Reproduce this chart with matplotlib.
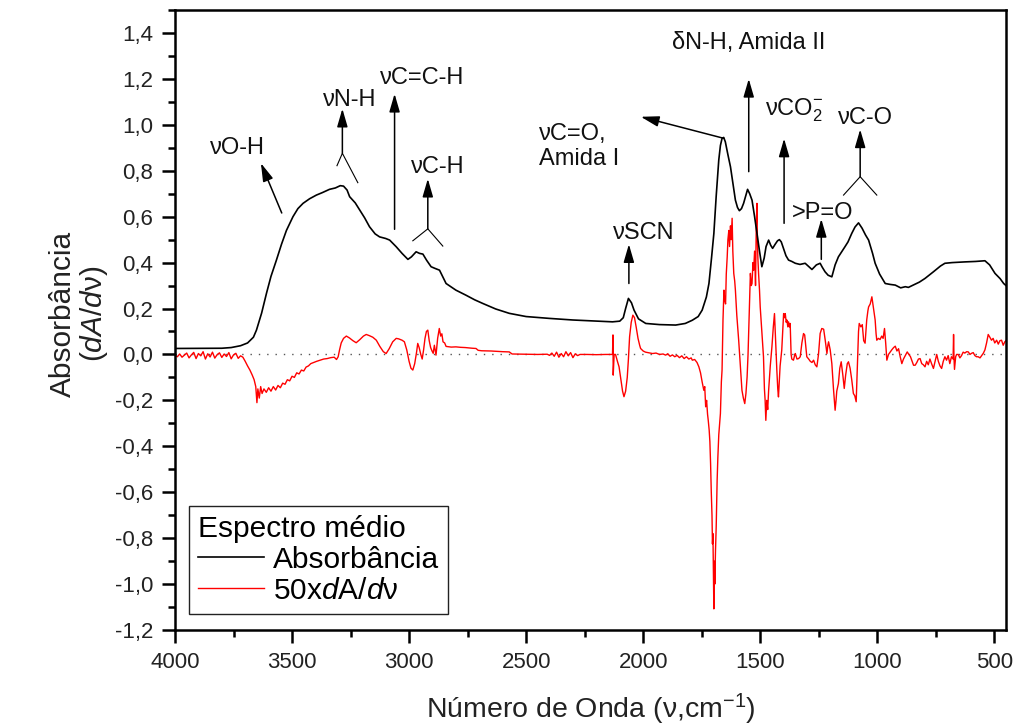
import matplotlib
matplotlib.use("Agg")
import matplotlib.pyplot as plt
from matplotlib.ticker import MultipleLocator, FuncFormatter

plt.rcParams['font.family'] = ['Liberation Sans', 'DejaVu Sans']
plt.rcParams['mathtext.fontset'] = 'custom'
plt.rcParams['mathtext.rm'] = 'Liberation Sans'
plt.rcParams['mathtext.it'] = 'Liberation Sans:italic'
plt.rcParams['mathtext.bf'] = 'Liberation Sans:bold'

# --- mean absorbance spectrum
abs_x = [4000, 3800, 3760, 3720, 3690, 3665, 3652, 3630, 3609, 3590, 3567, 3545, 3524, 3496,
         3475, 3453, 3425, 3396, 3370, 3340, 3315, 3294, 3280, 3265, 3254, 3230, 3211, 3190,
         3169, 3145, 3126, 3100, 3083, 3055, 3030, 3005, 2990, 2970, 2955, 2941, 2925, 2906,
         2890, 2870, 2842, 2800, 2757, 2720, 2685, 2630, 2572, 2500, 2401, 2300, 2188, 2131,
         2100, 2085, 2075, 2063, 2050, 2039, 2020, 1989, 1930, 1861, 1820, 1790, 1765, 1748,
         1730, 1719, 1708, 1698, 1688, 1677, 1670, 1663, 1656, 1649, 1638, 1627, 1616, 1606,
         1597, 1589, 1580, 1571, 1562, 1554, 1545, 1535, 1524, 1514, 1503, 1493, 1483, 1475,
         1464, 1455, 1447, 1436, 1426, 1418, 1410, 1400, 1390, 1379, 1365, 1350, 1330, 1308,
         1290, 1279, 1260, 1244, 1235, 1223, 1210, 1194, 1180, 1166, 1150, 1138, 1125, 1109,
         1095, 1080, 1065, 1050, 1037, 1020, 1009, 990, 966, 945, 923, 900, 880, 867, 840, 820,
         796, 760, 730, 711, 680, 626, 580, 540, 520, 497, 475, 460, 450]
abs_y = [0.026, 0.027, 0.030, 0.038, 0.050, 0.075, 0.106, 0.180, 0.267, 0.340, 0.410, 0.480,
         0.540, 0.600, 0.635, 0.658, 0.678, 0.694, 0.705, 0.719, 0.725, 0.735, 0.733, 0.716,
         0.687, 0.660, 0.629, 0.595, 0.556, 0.525, 0.512, 0.505, 0.498, 0.469, 0.440, 0.414,
         0.425, 0.447, 0.440, 0.437, 0.410, 0.382, 0.375, 0.367, 0.309, 0.280, 0.258, 0.238,
         0.222, 0.198, 0.179, 0.165, 0.157, 0.150, 0.145, 0.142, 0.145, 0.160, 0.200, 0.244,
         0.225, 0.193, 0.155, 0.135, 0.130, 0.128, 0.135, 0.149, 0.165, 0.193, 0.250, 0.309,
         0.420, 0.527, 0.690, 0.847, 0.910, 0.941, 0.945, 0.926, 0.870, 0.817, 0.740, 0.672,
         0.640, 0.626, 0.635, 0.658, 0.690, 0.719, 0.700, 0.672, 0.600, 0.527, 0.450, 0.382,
         0.420, 0.470, 0.498, 0.475, 0.462, 0.480, 0.495, 0.500, 0.490, 0.460, 0.430, 0.411,
         0.405, 0.397, 0.392, 0.397, 0.380, 0.370, 0.390, 0.397, 0.380, 0.360, 0.345, 0.338,
         0.390, 0.425, 0.450, 0.469, 0.490, 0.527, 0.555, 0.573, 0.550, 0.520, 0.498, 0.440,
         0.397, 0.350, 0.309, 0.305, 0.302, 0.290, 0.295, 0.292, 0.305, 0.315, 0.331, 0.360,
         0.385, 0.397, 0.400, 0.403, 0.405, 0.408, 0.390, 0.353, 0.330, 0.309, 0.300]

# --- 50 x first derivative, split in stretches to keep x/y aligned
der_x_a = [4000, 3990, 3980, 3970, 3960, 3950, 3940, 3930, 3920, 3910, 3900, 3890, 3880, 3870,
           3860, 3850, 3840, 3830, 3820, 3810, 3800, 3790, 3780, 3770, 3760, 3750, 3740, 3730,
           3720, 3710]
der_y_a = [-0.004, -0.010, 0.002, -0.012, -0.003, 0.006, -0.015, -0.002, 0.009, -0.018, 0.004,
           -0.006, 0.012, -0.020, 0.003, -0.011, 0.010, -0.016, -0.001, 0.007, -0.013, 0.002,
           -0.009, 0.008, -0.019, -0.002, 0.005, -0.017, -0.006, -0.012]

der_x_b = [3700, 3690, 3680, 3670, 3662, 3655, 3650, 3646, 3640, 3634, 3628, 3620, 3610, 3600,
           3590, 3580, 3570, 3560, 3550, 3540, 3530, 3520, 3510, 3500, 3490, 3480, 3470, 3460,
           3450, 3440, 3430, 3420, 3410, 3395, 3380, 3365, 3350, 3335, 3320, 3310, 3303, 3297,
           3290, 3280, 3268, 3255, 3240, 3226, 3210, 3195, 3183, 3170, 3155, 3140, 3125, 3110,
           3098, 3085, 3070, 3055, 3045, 3030, 3020, 3010, 3000, 2992, 2984, 2976, 2968, 2963,
           2957, 2950, 2944, 2938, 2932, 2926, 2920, 2914, 2908, 2902, 2897, 2892, 2885, 2878,
           2871, 2865, 2860, 2855, 2848, 2842, 2820, 2800, 2780, 2760, 2730, 2714, 2705, 2690,
           2650, 2600, 2572, 2560]
der_y_b = [-0.030, -0.050, -0.068, -0.090, -0.110, -0.140, -0.210, -0.150, -0.190, -0.140,
           -0.170, -0.150, -0.165, -0.145, -0.160, -0.140, -0.155, -0.135, -0.145, -0.125,
           -0.130, -0.110, -0.115, -0.095, -0.100, -0.080, -0.085, -0.068, -0.072, -0.055,
           -0.050, -0.040, -0.036, -0.030, -0.025, -0.020, -0.018, -0.014, -0.012, -0.022,
           -0.010, 0.020, 0.050, 0.070, 0.080, 0.072, 0.060, 0.051, 0.065, 0.080, 0.087, 0.082,
           0.075, 0.062, 0.035, 0.012, 0.004, 0.025, 0.055, 0.070, 0.068, 0.062, 0.055, 0.020,
           -0.030, -0.060, -0.068, -0.040, 0.010, 0.048, 0.030, 0.000, -0.020, 0.020, 0.070,
           0.100, 0.106, 0.060, 0.030, 0.015, 0.005, 0.040, -0.003, 0.070, 0.113, 0.080, 0.090,
           0.055, 0.050, 0.035, 0.032, 0.033, 0.031, 0.030, 0.027, 0.026, 0.018, 0.016, 0.015,
           0.012, 0.011, 0.002]

der_x_c = [2500, 2450, 2410, 2400, 2390, 2380, 2370, 2360, 2350, 2340, 2330, 2320, 2310, 2300,
           2290, 2280, 2270, 2240, 2200, 2160, 2135]
der_y_c = [0.001, 0.000, 0.001, -0.004, 0.006, -0.008, 0.010, -0.012, 0.004, -0.010, 0.012,
           -0.006, 0.008, -0.014, 0.003, -0.005, 0.000, 0.000, -0.001, 0.000, 0.000]

der_x_d = [2131, 2129, 2128, 2124, 2118, 2110, 2103, 2095, 2088, 2082, 2075, 2068, 2063, 2058,
           2051, 2044, 2037, 2030, 2022, 2015, 2011, 2000, 1990, 1975, 1960, 1945, 1930, 1915,
           1904, 1895, 1885, 1875, 1865, 1855, 1845, 1835, 1825, 1815, 1805, 1795, 1790, 1780,
           1770, 1762]
der_y_d = [0.000, 0.085, -0.090, 0.000, 0.000, -0.030, -0.054, -0.110, -0.160, -0.184, -0.160,
           -0.100, -0.020, 0.077, 0.140, 0.171, 0.160, 0.120, 0.070, 0.040, 0.026, 0.015, 0.010,
           0.007, 0.004, 0.006, 0.000, 0.002, -0.003, 0.003, -0.008, -0.002, -0.010, -0.004,
           -0.014, -0.006, -0.018, -0.010, -0.020, -0.015, -0.025, -0.022, -0.035, -0.054]

der_x_e = [1755, 1748, 1741, 1737, 1733, 1729, 1725, 1722, 1718, 1715, 1712, 1709, 1706, 1704,
           1702, 1700, 1698, 1696, 1694, 1691, 1688, 1684, 1681, 1677, 1673, 1670, 1666, 1663,
           1661, 1659, 1655, 1652, 1648, 1645, 1641, 1638, 1634, 1631, 1627, 1624, 1620, 1617,
           1613, 1609, 1606, 1600, 1592, 1585, 1578, 1572, 1566, 1561, 1556, 1552, 1549, 1545,
           1542, 1538, 1535, 1531, 1528, 1524, 1520, 1517, 1514, 1512, 1510, 1507, 1503, 1500,
           1493, 1486, 1482, 1479, 1476, 1472, 1468, 1464, 1457, 1450, 1444, 1439, 1434, 1429,
           1425, 1422]
der_y_e = [-0.080, -0.120, -0.156, -0.140, -0.228, -0.200, -0.260, -0.287, -0.330, -0.380,
           -0.476, -0.600, -0.700, -0.825, -0.780, -0.950, -1.108, -0.900, -1.000, -0.853,
           -0.750, -0.548, -0.450, -0.350, -0.300, -0.257, -0.120, -0.068, 0.033, 0.150, 0.280,
           0.240, 0.220, 0.350, 0.425, 0.500, 0.540, 0.470, 0.560, 0.500, 0.593, 0.450, 0.353,
           0.320, 0.280, 0.170, 0.062, -0.050, -0.156, -0.190, -0.214, -0.170, -0.098, 0.000,
           0.106, 0.250, 0.353, 0.300, 0.309, 0.400, 0.367, 0.450, 0.300, 0.550, 0.658, 0.500,
           0.420, 0.353, 0.280, 0.207, 0.100, -0.010, -0.150, -0.200, -0.287, -0.200, -0.240,
           -0.156, -0.050, 0.033, 0.120, 0.178, 0.050, -0.068, -0.150, -0.185]

der_x_f = [1415, 1408, 1403, 1400, 1396, 1393, 1389, 1386, 1382, 1379, 1375, 1372, 1368, 1365,
           1358, 1352, 1350, 1343, 1336, 1329, 1322, 1315, 1310, 1305, 1301, 1293, 1286, 1279,
           1272, 1265, 1258, 1251, 1244, 1237, 1229, 1222, 1215, 1211, 1208, 1201, 1194, 1187,
           1180, 1176, 1173, 1166, 1160, 1154, 1147, 1141, 1135, 1128, 1123, 1116, 1109, 1102,
           1096, 1090, 1085, 1080, 1077, 1070, 1064, 1058, 1052, 1045, 1040, 1037, 1030, 1023,
           1016, 1009, 1005, 1002, 995, 988, 981, 975, 969, 964, 959, 952, 945, 938, 930, 923,
           916, 909, 902, 895, 888, 880, 872, 865, 858, 851, 845, 838, 831, 824, 817, 810, 803,
           796, 789, 782, 775, 768, 760, 753, 746, 739, 732, 725, 718, 711, 704, 697, 690, 683,
           676, 674, 672, 670, 665, 661, 654, 647, 640, 633, 626, 618, 611, 604, 597, 590, 583,
           576, 569, 561, 554, 547, 540, 533, 526, 519, 512, 505, 498, 490, 483, 476, 469, 462,
           455, 450]
der_y_f = [-0.050, 0.019, 0.120, 0.178, 0.160, 0.178, 0.140, 0.150, 0.120, 0.142, 0.120, 0.135,
           0.000, -0.020, -0.025, 0.000, 0.004, -0.020, -0.018, -0.010, 0.050, 0.091, 0.085,
           0.030, -0.010, -0.020, -0.030, -0.035, -0.025, -0.045, -0.054, 0.000, 0.091, 0.113,
           0.110, 0.060, 0.004, 0.040, 0.055, 0.020, -0.040, -0.150, -0.243, -0.200, -0.160,
           -0.127, -0.060, -0.032, -0.090, -0.148, -0.090, -0.040, -0.032, -0.060, -0.110,
           -0.170, -0.180, -0.206, -0.050, 0.100, 0.135, 0.120, 0.130, 0.060, 0.049, 0.150,
           0.190, 0.207, 0.220, 0.251, 0.200, 0.150, 0.090, 0.062, 0.070, 0.065, 0.080, 0.070,
           0.113, 0.050, -0.025, 0.000, 0.010, 0.020, 0.030, 0.036, 0.015, 0.025, -0.010, -0.040,
           -0.020, -0.005, 0.011, 0.000, -0.010, -0.030, -0.047, -0.047, -0.035, -0.020, -0.018,
           -0.040, -0.045, -0.054, -0.030, -0.045, -0.020, -0.040, -0.061, -0.030, 0.000, -0.030,
           -0.050, -0.061, -0.030, -0.010, -0.025, -0.005, -0.040, -0.010, -0.020, 0.087, -0.020,
           -0.065, -0.010, 0.000, 0.000, -0.015, -0.005, 0.010, 0.006, 0.012, 0.011, 0.000,
           0.005, 0.008, -0.005, -0.010, -0.010, -0.015, -0.005, 0.005, 0.020, 0.050, 0.087,
           0.075, 0.062, 0.070, 0.050, 0.062, 0.045, 0.060, 0.062, 0.040, 0.055, 0.060]

der_x = der_x_a + der_x_b + der_x_c + der_x_d + der_x_e + der_x_f
der_y = der_y_a + der_y_b + der_y_c + der_y_d + der_y_e + der_y_f

# band assignments: label, text anchor (x, y), arrow tail, arrow head
bands = [
    ('νO-H', (3851, 0.90), (3544, 0.616), (3633, 0.833)),
    ('νN-H', (3369, 1.11), (3285, 0.876), (3285, 1.070)),
    ('νC=C-H', (3126, 1.204), (3062, 0.545), (3062, 1.135)),
    ('νC-H', (2991, 0.817), (2920, 0.547), (2920, 0.765)),
    ('νSCN', (2131, 0.527), (2061, 0.309), (2061, 0.480)),
    ('νC=O,\nAmida I', (2444, 0.905), (1655, 0.941), (2010, 1.035)),
    ('δN-H, Amida II', (1877, 1.355), (1549, 0.796), (1549, 1.200)),
    ('νCO$_2^{-}$', (1478, 1.065), (1398, 0.571), (1398, 0.940)),
    ('>P=O', (1365, 0.614), (1239, 0.414), (1239, 0.590)),
    ('νC-O', (1166, 1.028), (1073, 0.774), (1073, 0.980)),
]
# little forks under some arrows (vertex, left leg end, right leg end)
forks = [
    ((3285, 0.876), (3308, 0.822), (3219, 0.748)),
    ((2920, 0.547), (2984, 0.495), (2856, 0.472)),
    ((1073, 0.774), (1144, 0.694), (1002, 0.694)),
]


def comma_fmt(v, pos):
    s = f"{v:.1f}".replace('.', ',')
    if s == '-0,0':
        s = '0,0'
    return s


fig = plt.figure(figsize=(10.17, 7.28), dpi=100)
ax = fig.add_axes([175 / 1017, 98 / 728, 831 / 1017, 620 / 728])

ax.axhline(0, color='#555555', lw=1.0, ls=(0, (1, 5)), zorder=1)
ax.plot(abs_x, abs_y, color='k', lw=1.2, label='Absorbância', zorder=3)
ax.plot(der_x, der_y, color='#ff0000', lw=1.0, label='50x$d$A/$d$ν', zorder=2)

for label, (tx, ty), tail, head in bands:
    ax.text(tx, ty, label, fontsize=17, ha='left', va='center', color='#111111')
    ax.annotate('', xy=head, xytext=tail,
                arrowprops=dict(arrowstyle='-|>,head_length=0.55,head_width=0.16',
                                mutation_scale=20, color='k', lw=1.1,
                                shrinkA=0, shrinkB=0))

for vertex, left, right in forks:
    ax.plot([left[0], vertex[0], right[0]], [left[1], vertex[1], right[1]],
            color='k', lw=0.8)

ax.set_xlim(4000, 450)
ax.set_ylim(-1.2, 1.5)

ax.xaxis.set_major_locator(MultipleLocator(500))
ax.xaxis.set_minor_locator(MultipleLocator(250))
ax.yaxis.set_major_locator(MultipleLocator(0.2))
ax.yaxis.set_minor_locator(MultipleLocator(0.1))
ax.yaxis.set_major_formatter(FuncFormatter(comma_fmt))
ax.xaxis.set_major_formatter(FuncFormatter(lambda v, p: f"{v:.0f}"))

ax.tick_params(which='both', direction='out', top=False, right=False, width=1.8,
               labelsize=16, colors='k')
ax.tick_params(which='major', length=9.5, pad=6)
ax.tick_params(which='minor', length=5)
ax.tick_params(axis='y', labelcolor='#222222')
ax.tick_params(axis='x', labelcolor='#222222')
for sp in ax.spines.values():
    sp.set_linewidth(1.8)

ax.set_xlabel('Número de Onda (ν,cm$^{-1}$)', fontsize=20.5, color='#222222')
ax.xaxis.set_label_coords(0.5, -0.1)
ax.set_ylabel('Absorbância\n($dA/d$ν)', fontsize=21.5, color='#222222', linespacing=1.05)
ax.yaxis.set_label_coords(-0.078, 0.51)

leg = ax.legend(title='Espectro médio', loc='lower left', bbox_to_anchor=(0.017, 0.026),
                borderaxespad=0, fontsize=21.5, title_fontsize=21.5, fancybox=False,
                edgecolor='#222222', framealpha=1, alignment='left', handlelength=2.2,
                handletextpad=0.3, borderpad=0.3, labelspacing=0.1)
leg.get_frame().set_linewidth(1.0)

fig.savefig('out.png', dpi=100)
